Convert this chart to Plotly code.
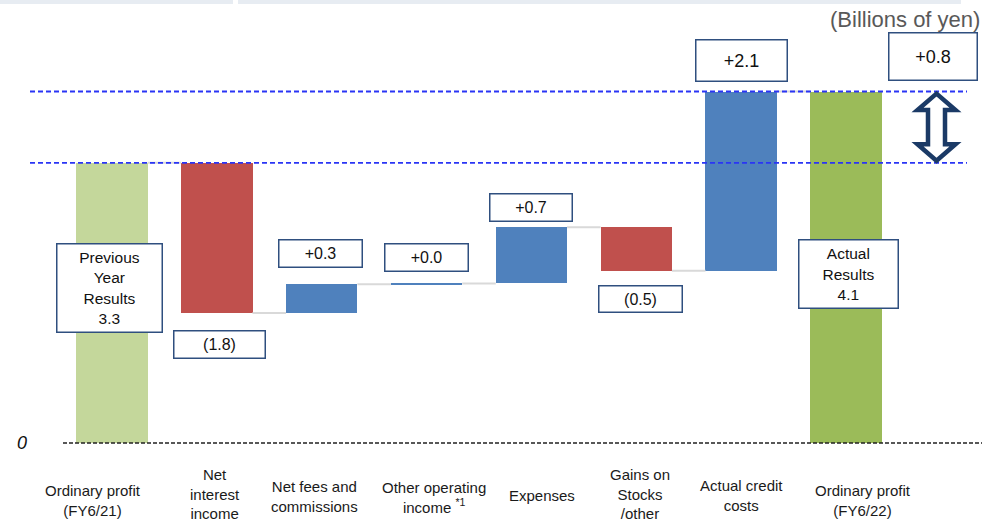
import plotly.graph_objects as go

# ---------------- data ----------------
categories = ["Ordinary profit<br>(FY6/21)", "Net<br>interest<br>income", "Net fees and<br>commissions",
              "Other operating<br>income <sup>*1</sup>", "Expenses", "Gains on<br>Stocks<br>/other",
              "Actual credit<br>costs", "Ordinary profit<br>(FY6/22)"]
previous_results = 3.30
changes = [-1.77, 0.34, 0.01, 0.66, -0.51, 2.11]
actual_results = 4.14
unit_label = "(Billions of yen)"

# ---------------- styling ----------------
FONT = "Liberation Sans, Arial, sans-serif"
C_PREV = "#c4d79b"
C_ACT = "#9bbb59"
C_UP = "#4f81bd"
C_DOWN = "#c0504d"
C_CONN = "#d9d9d9"
C_BOX = "#2f4f7f"
W, H = 982, 522
BAR_W = 0.68

# waterfall geometry from the data
bases, heights, colors = [0], [previous_results], [C_PREV]
level = previous_results
levels = [level]
for d in changes:
    new = level + d
    bases.append(min(level, new))
    heights.append(abs(d))
    colors.append(C_UP if d >= 0 else C_DOWN)
    level = new
    levels.append(level)
bases.append(0)
heights.append(actual_results)
colors.append(C_ACT)
levels.append(actual_results)

xs = list(range(len(categories)))

fig = go.Figure()

# connectors
for i in range(len(categories) - 1):
    fig.add_trace(go.Scatter(x=[i + BAR_W / 2, i + 1 - BAR_W / 2], y=[levels[i], levels[i]],
                             mode="lines", line=dict(color=C_CONN, width=2),
                             hoverinfo="skip", showlegend=False))

fig.add_trace(go.Bar(x=xs, y=heights, base=bases, width=BAR_W,
                     marker=dict(color=colors, line=dict(width=0)), showlegend=False))

def fmt(v):
    return f"({abs(v):.1f})" if v < 0 else f"+{v:.1f}"

annotations = []

def px_y(py):
    return 1 - py / H

def box(text, xi, xshift, cy, w, h, size=16):
    annotations.append(dict(text=text, x=xi, xref="x", xshift=xshift, y=px_y(cy), yref="paper",
                            xanchor="center", yanchor="middle", showarrow=False,
                            width=w - 3, height=h - 3, borderpad=0, bgcolor="white",
                            bordercolor=C_BOX, borderwidth=1.5,
                            font=dict(family=FONT, size=size, color="#111")))

box(f"Previous<br>Year<br>Results<br>{previous_results:.1f}", 0, -2.5, 288, 107, 90, 15.5)
box(fmt(changes[0]), 1, 3, 344, 93, 29)
box(fmt(changes[1]), 2, -1, 253.5, 85, 29)
box(fmt(changes[2]), 3, 0, 257.5, 85, 29)
box(fmt(changes[3]), 4, 0, 207.5, 84, 29)
box(fmt(changes[4]), 5, 4, 299, 85, 28)
box(fmt(changes[5]), 6, 0, 60.5, 93, 43, 18)
box(f"Actual<br>Results<br>{actual_results:.1f}", 7, 2.5, 274, 101, 70, 15.5)
annotations.append(dict(text=fmt(actual_results - previous_results), x=933 / W, xref="paper",
                        y=px_y(56.5), yref="paper", xanchor="center", yanchor="middle",
                        showarrow=False, width=87, height=46, borderpad=0, bgcolor="white",
                        bordercolor=C_BOX, borderwidth=1.5,
                        font=dict(family=FONT, size=18, color="#111")))

# category labels
label_shift = [-19, -2, -7, 7, 11, 4, 0, 17]
label_y = [500, 494, 496, 497, 495, 494, 495, 500]
for i, c in enumerate(categories):
    annotations.append(dict(text=c, x=i, xref="x", xshift=label_shift[i], y=px_y(label_y[i]),
                            yref="paper", xanchor="center", yanchor="middle", showarrow=False,
                            font=dict(family=FONT, size=15, color="#1a1a1a")))

# unit label and zero label
annotations.append(dict(text=unit_label, x=1, xref="paper", y=px_y(20), yref="paper",
                        xanchor="right", yanchor="middle", showarrow=False,
                        font=dict(family=FONT, size=22, color="#595959")))
annotations.append(dict(text="<i>0</i>", x=22 / W, xref="paper", y=0, yref="y",
                        xanchor="center", yanchor="middle", showarrow=False,
                        font=dict(family=FONT, size=18, color="#111")))

shapes = []
# top decorative strip
shapes.append(dict(type="rect", xref="paper", yref="paper", x0=0, x1=233 / W, y0=px_y(4), y1=1,
                   fillcolor="#e7ecf2", line=dict(width=0), layer="below"))
shapes.append(dict(type="rect", xref="paper", yref="paper", x0=238 / W, x1=961 / W, y0=px_y(4), y1=1,
                   fillcolor="#e7ecf2", line=dict(width=0), layer="below"))
# zero line
shapes.append(dict(type="line", xref="paper", yref="y", x0=63 / W, x1=1, y0=0, y1=0,
                   line=dict(color="#222222", width=1.5, dash="4px,2px")))
# reference lines at previous and actual levels
for lv in (previous_results, actual_results):
    shapes.append(dict(type="line", xref="paper", yref="y", x0=30 / W, x1=967 / W, y0=lv, y1=lv,
                       line=dict(color="#2a35f5", width=1.8, dash="5px,3px")))

# double-headed arrow between the two levels
top, bot = actual_results, previous_results
span = top - bot
head = span * 0.26
cx = 936.5 / W
hw = 19 / W
sw = 8.5 / W
inset = span * 0.03
pts = [(cx, top - inset), (cx + hw, top - head), (cx + sw, top - head), (cx + sw, bot + head),
       (cx + hw, bot + head), (cx, bot + inset), (cx - hw, bot + head), (cx - sw, bot + head),
       (cx - sw, top - head), (cx - hw, top - head)]
path = "M " + " L ".join(f"{x},{y}" for x, y in pts) + " Z"
shapes.append(dict(type="path", xref="paper", yref="y", path=path, fillcolor="white",
                   line=dict(color="#1b3a66", width=4.5)))

fig.update_layout(
    width=W, height=H, margin=dict(l=0, r=0, t=0, b=0),
    paper_bgcolor="white", plot_bgcolor="white",
    xaxis=dict(visible=False, range=[-1.068, 8.297], fixedrange=True),
    yaxis=dict(visible=False, range=[-0.9305, 5.218], fixedrange=True),
    bargap=0, showlegend=False,
    annotations=annotations, shapes=shapes,
    font=dict(family=FONT),
)

fig.write_html("out.html", config={"displayModeBar": False})
